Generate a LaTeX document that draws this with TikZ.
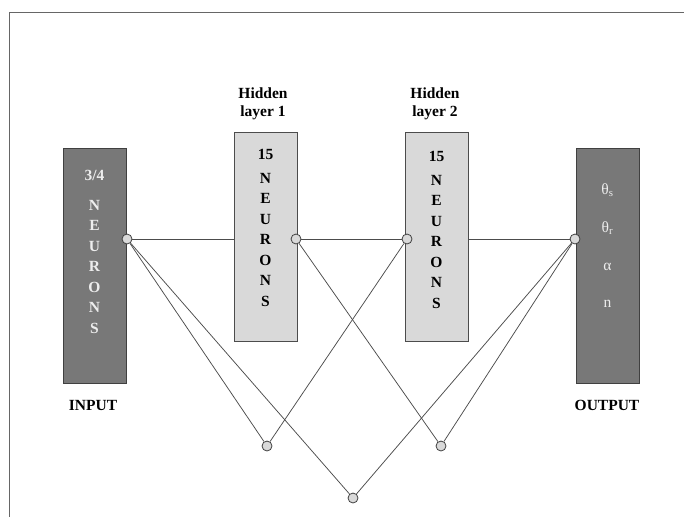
\documentclass[tikz,border=0pt]{standalone}
\usepackage{fontspec}
\setmainfont{Liberation Serif}
\begin{document}
\begin{tikzpicture}[x=1pt,y=-1pt,
  darkbox/.style={draw=black!75,fill=black!53,line width=0.8pt,minimum width=63pt,inner sep=0pt},
  lightbox/.style={draw=black!70,fill=black!15,line width=0.8pt,minimum width=63pt,inner sep=0pt},
  dot/.style={circle,draw=black!75,fill=black!15,line width=0.8pt,minimum size=10pt,inner sep=0pt},
  wire/.style={draw=black!70,line width=0.75pt},
  lt/.style={font=\fontsize{15.5}{15}\selectfont\bfseries,text=black!7,inner sep=0pt},
  dk/.style={font=\fontsize{15.5}{15}\selectfont\bfseries,text=black,inner sep=0pt},
  gk/.style={font=\fontsize{15.5}{15}\selectfont,text=black!7,inner sep=0pt},
  lbl/.style={font=\fontsize{15.5}{18}\selectfont\bfseries,text=black,inner sep=0pt,align=center}]
\useasboundingbox (0,0) rectangle (684,517);
\draw[black!60,line width=1pt] (684,12) -- (9,12) -- (9,517);
% boxes
\node[darkbox,minimum height=235pt,anchor=north west] (inbox) at (63,148) {};
\node[lightbox,minimum height=209pt,anchor=north west] (h1box) at (234,132) {};
\node[lightbox,minimum height=209pt,anchor=north west] (h2box) at (405,132) {};
\node[darkbox,minimum height=235pt,anchor=north west] (outbox) at (576,148) {};
% box texts
\node[lt] (in0) at (94.5,175) {3/4};
\foreach \l [count=\k from 0] in {N,E,U,R,O,N,S}
  \node[lt,name=in\l\k] at (94.5,205+20.5*\k) {\l};
\node[dk] (ha0) at (265.5,154) {15};
\foreach \l [count=\k from 0] in {N,E,U,R,O,N,S}
  \node[dk,name=ha\l\k] at (265.5,178+20.5*\k) {\l};
\node[dk] (hb0) at (436.5,156) {15};
\foreach \l [count=\k from 0] in {N,E,U,R,O,N,S}
  \node[dk,name=hb\l\k] at (436.5,180+20.5*\k) {\l};
\node[gk] (o1) at (607.5,190) {θ\textsubscript{s}};
\node[gk] (o2) at (607.5,228) {θ\textsubscript{r}};
\node[gk] (o3) at (607.5,267) {α};
\node[gk] (o4) at (607.5,304) {n};
% labels
\node[lbl] (lh1) at (263,104) {Hidden\\layer 1};
\node[lbl] (lh2) at (435,104) {Hidden\\layer 2};
\node[lbl] (lin) at (93,405) {INPUT};
\node[lbl] (lout) at (607,405) {OUTPUT};
% circles
\node[dot] (cin) at (127,239) {};
\node[dot] (ch1) at (296,239) {};
\node[dot] (ch2) at (407,239) {};
\node[dot] (cout) at (575,239) {};
\node[dot] (b1) at (267,446) {};
\node[dot] (b2) at (441,446) {};
\node[dot] (b3) at (353,498) {};
\coordinate (h1w) at (234,239);
\coordinate (h2e) at (468,239);
% wires
\draw[wire] (cin) -- (h1w);
\draw[wire] (ch1) -- (ch2);
\draw[wire] (h2e) -- (cout);
\draw[wire] (cin) -- (b1);
\draw[wire] (cin) -- (b3);
\draw[wire] (b1) -- (ch2);
\draw[wire] (ch1) -- (b2);
\draw[wire] (b2) -- (cout);
\draw[wire] (b3) -- (cout);
\end{tikzpicture}
\end{document}
